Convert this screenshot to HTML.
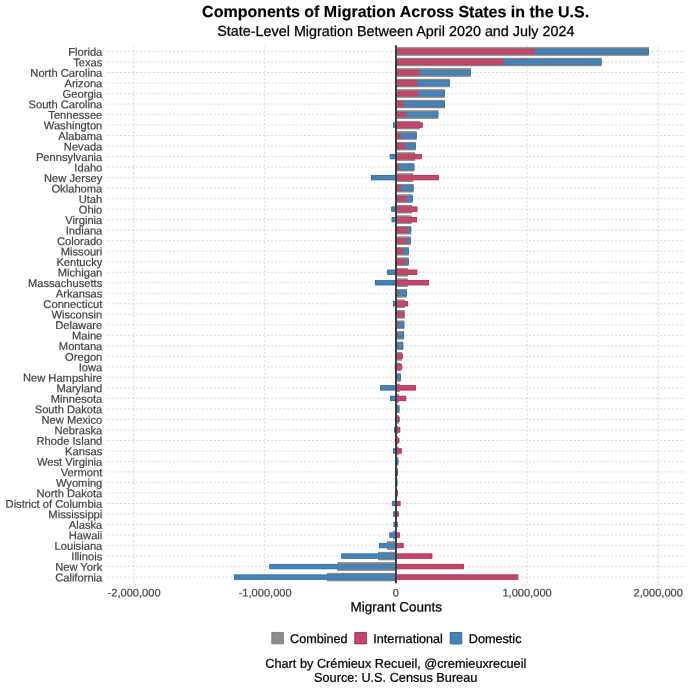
<!DOCTYPE html>
<html lang="en"><head><meta charset="utf-8"><title>Components of Migration Across States in the U.S.</title>
<style>html,body{margin:0;padding:0;background:#fff}body{width:690px;height:690px;overflow:hidden}svg{display:block}text{font-family:"Liberation Sans",Arial,Helvetica,sans-serif}</style></head><body>
<svg width="690" height="690" viewBox="0 0 690 690">
<rect width="690" height="690" fill="#fff"/>
<g transform="matrix(1 0.0005 0 1 0 0)">
<text x="395.6" y="16.9" text-anchor="middle" font-size="16" font-weight="bold" fill="#000" stroke="#000" stroke-width="0.15">Components of Migration Across States in the U.S.</text>
<text x="395.8" y="35.75" text-anchor="middle" font-size="14.38" fill="#000" stroke="#000" stroke-width="0.25">State-Level Migration Between April 2020 and July 2024</text>
</g>
<g stroke="#cdcdcd" stroke-width="0.8" stroke-dasharray="2 2.0909" fill="none">
<path d="M107.55 51.50H684.8"/>
<path d="M107.55 62.01H684.8"/>
<path d="M107.55 72.52H684.8"/>
<path d="M107.55 83.04H684.8"/>
<path d="M107.55 93.55H684.8"/>
<path d="M107.55 104.06H684.8"/>
<path d="M107.55 114.57H684.8"/>
<path d="M107.55 125.08H684.8"/>
<path d="M107.55 135.60H684.8"/>
<path d="M107.55 146.11H684.8"/>
<path d="M107.55 156.62H684.8"/>
<path d="M107.55 167.13H684.8"/>
<path d="M107.55 177.64H684.8"/>
<path d="M107.55 188.16H684.8"/>
<path d="M107.55 198.67H684.8"/>
<path d="M107.55 209.18H684.8"/>
<path d="M107.55 219.69H684.8"/>
<path d="M107.55 230.20H684.8"/>
<path d="M107.55 240.72H684.8"/>
<path d="M107.55 251.23H684.8"/>
<path d="M107.55 261.74H684.8"/>
<path d="M107.55 272.25H684.8"/>
<path d="M107.55 282.76H684.8"/>
<path d="M107.55 293.28H684.8"/>
<path d="M107.55 303.79H684.8"/>
<path d="M107.55 314.30H684.8"/>
<path d="M107.55 324.81H684.8"/>
<path d="M107.55 335.32H684.8"/>
<path d="M107.55 345.84H684.8"/>
<path d="M107.55 356.35H684.8"/>
<path d="M107.55 366.86H684.8"/>
<path d="M107.55 377.37H684.8"/>
<path d="M107.55 387.88H684.8"/>
<path d="M107.55 398.40H684.8"/>
<path d="M107.55 408.91H684.8"/>
<path d="M107.55 419.42H684.8"/>
<path d="M107.55 429.93H684.8"/>
<path d="M107.55 440.44H684.8"/>
<path d="M107.55 450.96H684.8"/>
<path d="M107.55 461.47H684.8"/>
<path d="M107.55 471.98H684.8"/>
<path d="M107.55 482.49H684.8"/>
<path d="M107.55 493.00H684.8"/>
<path d="M107.55 503.52H684.8"/>
<path d="M107.55 514.03H684.8"/>
<path d="M107.55 524.54H684.8"/>
<path d="M107.55 535.05H684.8"/>
<path d="M107.55 545.56H684.8"/>
<path d="M107.55 556.08H684.8"/>
<path d="M107.55 566.59H684.8"/>
<path d="M107.55 577.10H684.8"/>
<path d="M133.55 583.2V45.2"/>
<path d="M264.75 583.2V45.2"/>
<path d="M395.95 583.2V45.2"/>
<path d="M527.15 583.2V45.2"/>
<path d="M658.35 583.2V45.2"/>
</g>
<g fill="#8a8a8a" stroke="#757575" stroke-width="0.6">
<rect x="396.30" y="47.60" width="252.40" height="7.80"/>
<rect x="396.30" y="58.11" width="204.90" height="7.80"/>
<rect x="396.30" y="68.62" width="74.20" height="7.80"/>
<rect x="396.30" y="79.14" width="53.10" height="7.80"/>
<rect x="396.30" y="89.65" width="48.30" height="7.80"/>
<rect x="396.30" y="100.16" width="48.30" height="7.80"/>
<rect x="396.30" y="110.67" width="41.70" height="7.80"/>
<rect x="396.30" y="121.18" width="23.20" height="7.80"/>
<rect x="396.30" y="131.70" width="20.00" height="7.80"/>
<rect x="396.30" y="142.21" width="19.10" height="7.80"/>
<rect x="396.30" y="152.72" width="18.60" height="7.80"/>
<rect x="396.30" y="163.23" width="17.70" height="7.80"/>
<rect x="396.30" y="173.74" width="16.70" height="7.80"/>
<rect x="396.30" y="184.26" width="16.90" height="7.80"/>
<rect x="396.30" y="194.77" width="16.20" height="7.80"/>
<rect x="396.30" y="205.28" width="15.50" height="7.80"/>
<rect x="396.30" y="215.79" width="15.10" height="7.80"/>
<rect x="396.30" y="226.30" width="14.60" height="7.80"/>
<rect x="396.30" y="236.82" width="14.10" height="7.80"/>
<rect x="396.30" y="247.33" width="12.40" height="7.80"/>
<rect x="396.30" y="257.84" width="12.20" height="7.80"/>
<rect x="396.30" y="268.35" width="11.30" height="7.80"/>
<rect x="396.30" y="278.86" width="11.00" height="7.80"/>
<rect x="396.30" y="289.38" width="10.40" height="7.80"/>
<rect x="396.30" y="299.89" width="8.40" height="7.80"/>
<rect x="396.30" y="310.40" width="8.00" height="7.80"/>
<rect x="396.30" y="320.91" width="7.70" height="7.80"/>
<rect x="396.30" y="331.42" width="7.50" height="7.80"/>
<rect x="396.30" y="341.94" width="6.60" height="7.80"/>
<rect x="396.30" y="352.45" width="5.60" height="7.80"/>
<rect x="396.30" y="362.96" width="4.20" height="7.80"/>
<rect x="396.30" y="373.47" width="4.20" height="7.80"/>
<rect x="396.30" y="383.98" width="3.00" height="7.80"/>
<rect x="396.30" y="394.50" width="2.10" height="7.80"/>
<rect x="396.30" y="405.01" width="2.80" height="7.80"/>
<rect x="396.30" y="415.52" width="2.10" height="7.80"/>
<rect x="396.30" y="426.03" width="1.40" height="7.80"/>
<rect x="396.30" y="436.54" width="1.40" height="7.80"/>
<rect x="396.30" y="447.06" width="2.00" height="7.80"/>
<rect x="396.30" y="457.57" width="1.70" height="7.80"/>
<rect x="396.30" y="468.08" width="1.40" height="7.80"/>
<rect x="396.30" y="478.59" width="0.80" height="7.80"/>
<rect x="396.30" y="489.10" width="0.80" height="7.80"/>
<rect x="396.30" y="499.62" width="0.10" height="7.80"/>
<rect x="395.50" y="510.13" width="0.20" height="7.80"/>
<rect x="395.30" y="520.64" width="0.40" height="7.80"/>
<rect x="393.40" y="531.15" width="2.30" height="7.80"/>
<rect x="387.40" y="541.66" width="8.30" height="7.80"/>
<rect x="378.40" y="552.18" width="17.30" height="7.80"/>
<rect x="337.70" y="562.69" width="58.00" height="7.80"/>
<rect x="327.30" y="573.20" width="68.40" height="7.80"/>
</g>
<g fill="#c0476a" stroke="#b3224c" stroke-width="0.8">
<rect x="396.40" y="49.25" width="138.00" height="4.50"/>
<rect x="396.40" y="59.76" width="106.80" height="4.50"/>
<rect x="396.40" y="70.27" width="23.00" height="4.50"/>
<rect x="396.40" y="80.79" width="20.10" height="4.50"/>
<rect x="396.40" y="91.30" width="21.50" height="4.50"/>
<rect x="396.40" y="101.81" width="7.00" height="4.50"/>
<rect x="396.40" y="112.32" width="8.80" height="4.50"/>
<rect x="396.40" y="122.83" width="25.90" height="4.50"/>
<rect x="396.40" y="133.35" width="4.00" height="4.50"/>
<rect x="396.40" y="143.86" width="8.50" height="4.50"/>
<rect x="396.40" y="154.37" width="25.00" height="4.50"/>
<rect x="396.40" y="164.88" width="2.10" height="4.50"/>
<rect x="396.40" y="175.39" width="42.10" height="4.50"/>
<rect x="396.40" y="185.91" width="4.30" height="4.50"/>
<rect x="396.40" y="196.42" width="9.20" height="4.50"/>
<rect x="396.40" y="206.93" width="20.70" height="4.50"/>
<rect x="396.40" y="217.44" width="20.20" height="4.50"/>
<rect x="396.40" y="227.95" width="10.80" height="4.50"/>
<rect x="396.40" y="238.47" width="10.20" height="4.50"/>
<rect x="396.40" y="248.98" width="6.80" height="4.50"/>
<rect x="396.40" y="259.49" width="8.30" height="4.50"/>
<rect x="396.40" y="270.00" width="20.50" height="4.50"/>
<rect x="396.40" y="280.51" width="32.30" height="4.50"/>
<rect x="396.40" y="291.03" width="1.70" height="4.50"/>
<rect x="396.40" y="301.54" width="11.30" height="4.50"/>
<rect x="396.40" y="312.05" width="7.10" height="4.50"/>
<rect x="396.40" y="322.56" width="1.40" height="4.50"/>
<rect x="396.40" y="333.07" width="1.00" height="4.50"/>
<rect x="396.40" y="343.59" width="0.40" height="4.50"/>
<rect x="396.40" y="354.10" width="5.90" height="4.50"/>
<rect x="396.40" y="364.61" width="5.40" height="4.50"/>
<rect x="396.40" y="375.12" width="0.50" height="4.50"/>
<rect x="396.40" y="385.63" width="19.10" height="4.50"/>
<rect x="396.40" y="396.15" width="9.40" height="4.50"/>
<rect x="396.40" y="406.66" width="0.50" height="4.50"/>
<rect x="396.40" y="417.17" width="2.90" height="4.50"/>
<rect x="396.40" y="427.68" width="3.50" height="4.50"/>
<rect x="396.40" y="438.19" width="2.60" height="4.50"/>
<rect x="396.40" y="448.71" width="4.90" height="4.50"/>
<rect x="396.00" y="458.82" width="0.80" height="5.30" stroke="none"/>
<rect x="396.00" y="469.33" width="0.60" height="5.30" stroke="none"/>
<rect x="396.00" y="479.84" width="0.30" height="5.30" stroke="none"/>
<rect x="396.40" y="490.75" width="1.20" height="4.50"/>
<rect x="396.40" y="501.27" width="3.80" height="4.50"/>
<rect x="396.40" y="511.78" width="1.90" height="4.50"/>
<rect x="396.40" y="522.29" width="0.90" height="4.50"/>
<rect x="396.40" y="532.80" width="3.10" height="4.50"/>
<rect x="396.40" y="543.31" width="6.80" height="4.50"/>
<rect x="396.40" y="553.83" width="35.60" height="4.50"/>
<rect x="396.40" y="564.34" width="67.20" height="4.50"/>
<rect x="396.40" y="574.85" width="121.50" height="4.50"/>
</g>
<g fill="#4682b4" stroke="#2169a5" stroke-width="0.8">
<rect x="535.20" y="49.25" width="113.40" height="4.50"/>
<rect x="504.00" y="59.76" width="97.10" height="4.50"/>
<rect x="420.20" y="70.27" width="50.20" height="4.50"/>
<rect x="417.30" y="80.79" width="32.00" height="4.50"/>
<rect x="418.70" y="91.30" width="25.80" height="4.50"/>
<rect x="404.20" y="101.81" width="40.30" height="4.50"/>
<rect x="406.00" y="112.32" width="31.90" height="4.50"/>
<rect x="393.50" y="122.83" width="2.10" height="4.50"/>
<rect x="401.20" y="133.35" width="15.00" height="4.50"/>
<rect x="405.70" y="143.86" width="9.60" height="4.50"/>
<rect x="390.10" y="154.37" width="5.50" height="4.50"/>
<rect x="399.30" y="164.88" width="14.60" height="4.50"/>
<rect x="371.30" y="175.39" width="24.30" height="4.50"/>
<rect x="401.50" y="185.91" width="11.60" height="4.50"/>
<rect x="406.40" y="196.42" width="6.00" height="4.50"/>
<rect x="391.60" y="206.93" width="4.00" height="4.50"/>
<rect x="392.00" y="217.44" width="3.60" height="4.50"/>
<rect x="408.00" y="227.95" width="2.80" height="4.50"/>
<rect x="407.40" y="238.47" width="2.90" height="4.50"/>
<rect x="404.00" y="248.98" width="4.60" height="4.50"/>
<rect x="405.50" y="259.49" width="2.90" height="4.50"/>
<rect x="387.60" y="270.00" width="8.00" height="4.50"/>
<rect x="375.30" y="280.51" width="20.30" height="4.50"/>
<rect x="398.90" y="291.03" width="7.70" height="4.50"/>
<rect x="393.40" y="301.54" width="2.20" height="4.50"/>
<rect x="403.90" y="311.65" width="0.70" height="5.30" stroke="none"/>
<rect x="398.60" y="322.56" width="5.30" height="4.50"/>
<rect x="398.20" y="333.07" width="5.50" height="4.50"/>
<rect x="397.60" y="343.59" width="5.20" height="4.50"/>
<rect x="395.40" y="353.70" width="0.60" height="5.30" stroke="none"/>
<rect x="395.10" y="364.61" width="0.50" height="4.50"/>
<rect x="397.70" y="375.12" width="2.70" height="4.50"/>
<rect x="380.50" y="385.63" width="15.10" height="4.50"/>
<rect x="390.40" y="396.15" width="5.20" height="4.50"/>
<rect x="397.70" y="406.66" width="1.30" height="4.50"/>
<rect x="395.30" y="417.17" width="0.30" height="4.50"/>
<rect x="394.40" y="427.68" width="1.20" height="4.50"/>
<rect x="395.30" y="438.19" width="0.30" height="4.50"/>
<rect x="393.40" y="448.71" width="2.20" height="4.50"/>
<rect x="397.20" y="459.22" width="0.70" height="4.50"/>
<rect x="397.00" y="469.73" width="0.60" height="4.50"/>
<rect x="396.70" y="480.24" width="0.30" height="4.50"/>
<rect x="395.50" y="490.35" width="0.50" height="5.30" stroke="none"/>
<rect x="392.50" y="501.27" width="3.10" height="4.50"/>
<rect x="393.50" y="511.78" width="2.10" height="4.50"/>
<rect x="393.90" y="522.29" width="1.70" height="4.50"/>
<rect x="389.70" y="532.80" width="5.90" height="4.50"/>
<rect x="379.50" y="543.31" width="16.10" height="4.50"/>
<rect x="341.70" y="553.83" width="53.90" height="4.50"/>
<rect x="269.70" y="564.34" width="125.90" height="4.50"/>
<rect x="234.50" y="574.85" width="161.10" height="4.50"/>
</g>
<g fill="#c0476a">
<rect x="396.00" y="48.85" width="138.80" height="5.30"/>
<rect x="396.00" y="59.36" width="107.60" height="5.30"/>
<rect x="396.00" y="69.87" width="23.80" height="5.30"/>
<rect x="396.00" y="80.39" width="20.90" height="5.30"/>
<rect x="396.00" y="90.90" width="22.30" height="5.30"/>
<rect x="396.00" y="101.41" width="7.80" height="5.30"/>
<rect x="396.00" y="111.92" width="9.60" height="5.30"/>
<rect x="396.00" y="122.43" width="23.80" height="5.30"/>
<rect x="396.00" y="132.95" width="4.80" height="5.30"/>
<rect x="396.00" y="143.46" width="9.30" height="5.30"/>
<rect x="396.00" y="153.97" width="19.20" height="5.30"/>
<rect x="396.00" y="164.48" width="2.90" height="5.30"/>
<rect x="396.00" y="174.99" width="17.30" height="5.30"/>
<rect x="396.00" y="185.51" width="5.10" height="5.30"/>
<rect x="396.00" y="196.02" width="10.00" height="5.30"/>
<rect x="396.00" y="206.53" width="16.10" height="5.30"/>
<rect x="396.00" y="217.04" width="15.70" height="5.30"/>
<rect x="396.00" y="227.55" width="11.60" height="5.30"/>
<rect x="396.00" y="238.07" width="11.00" height="5.30"/>
<rect x="396.00" y="248.58" width="7.60" height="5.30"/>
<rect x="396.00" y="259.09" width="9.10" height="5.30"/>
<rect x="396.00" y="269.60" width="11.90" height="5.30"/>
<rect x="396.00" y="280.11" width="11.60" height="5.30"/>
<rect x="396.00" y="290.63" width="2.50" height="5.30"/>
<rect x="396.00" y="301.14" width="9.00" height="5.30"/>
<rect x="396.00" y="311.65" width="7.90" height="5.30"/>
<rect x="396.00" y="322.16" width="2.20" height="5.30"/>
<rect x="396.00" y="332.67" width="1.80" height="5.30"/>
<rect x="396.00" y="343.19" width="1.20" height="5.30"/>
<rect x="396.00" y="353.70" width="6.20" height="5.30"/>
<rect x="396.00" y="364.21" width="4.80" height="5.30"/>
<rect x="396.00" y="374.72" width="1.30" height="5.30"/>
<rect x="396.00" y="385.23" width="3.60" height="5.30"/>
<rect x="396.00" y="395.75" width="2.70" height="5.30"/>
<rect x="396.00" y="406.26" width="1.30" height="5.30"/>
<rect x="396.00" y="416.77" width="2.70" height="5.30"/>
<rect x="396.00" y="427.28" width="2.00" height="5.30"/>
<rect x="396.00" y="437.79" width="2.00" height="5.30"/>
<rect x="396.00" y="448.31" width="2.60" height="5.30"/>
<rect x="396.00" y="458.82" width="0.80" height="5.30"/>
<rect x="396.00" y="469.33" width="0.60" height="5.30"/>
<rect x="396.00" y="479.84" width="0.30" height="5.30"/>
<rect x="396.00" y="490.35" width="1.40" height="5.30"/>
<rect x="396.00" y="500.87" width="0.70" height="5.30"/>
</g>
<g fill="#4682b4">
<rect x="534.80" y="48.85" width="113.40" height="5.30"/>
<rect x="503.60" y="59.36" width="97.10" height="5.30"/>
<rect x="419.80" y="69.87" width="50.20" height="5.30"/>
<rect x="416.90" y="80.39" width="32.00" height="5.30"/>
<rect x="418.30" y="90.90" width="25.80" height="5.30"/>
<rect x="403.80" y="101.41" width="40.30" height="5.30"/>
<rect x="405.60" y="111.92" width="31.90" height="5.30"/>
<rect x="400.80" y="132.95" width="15.00" height="5.30"/>
<rect x="405.30" y="143.46" width="9.60" height="5.30"/>
<rect x="398.90" y="164.48" width="14.60" height="5.30"/>
<rect x="401.10" y="185.51" width="11.60" height="5.30"/>
<rect x="406.00" y="196.02" width="6.00" height="5.30"/>
<rect x="407.60" y="227.55" width="2.80" height="5.30"/>
<rect x="407.00" y="238.07" width="2.90" height="5.30"/>
<rect x="403.60" y="248.58" width="4.60" height="5.30"/>
<rect x="405.10" y="259.09" width="2.90" height="5.30"/>
<rect x="398.50" y="290.63" width="7.70" height="5.30"/>
<rect x="398.20" y="322.16" width="5.30" height="5.30"/>
<rect x="397.80" y="332.67" width="5.50" height="5.30"/>
<rect x="397.20" y="343.19" width="5.20" height="5.30"/>
<rect x="397.30" y="374.72" width="2.70" height="5.30"/>
<rect x="397.30" y="406.26" width="1.30" height="5.30"/>
<rect x="396.80" y="458.82" width="0.70" height="5.30"/>
<rect x="396.60" y="469.33" width="0.60" height="5.30"/>
<rect x="396.30" y="479.84" width="0.30" height="5.30"/>
<rect x="395.20" y="511.38" width="0.80" height="5.30"/>
<rect x="395.00" y="521.89" width="1.00" height="5.30"/>
<rect x="393.10" y="532.40" width="2.90" height="5.30"/>
<rect x="387.10" y="542.91" width="8.90" height="5.30"/>
<rect x="378.10" y="553.43" width="17.90" height="5.30"/>
<rect x="337.40" y="563.94" width="58.60" height="5.30"/>
<rect x="327.00" y="574.45" width="69.00" height="5.30"/>
</g>
<path d="M396.0 45.2V583.2" stroke="#383838" stroke-width="1.9" fill="none"/>
<g transform="matrix(1 0.0005 0 1 0 0)">
<g font-size="11.17" fill="#404040" stroke="#404040" stroke-width="0.2" text-anchor="end">
<text x="102.3" y="55.75">Florida</text>
<text x="102.3" y="66.26">Texas</text>
<text x="102.3" y="76.77">North Carolina</text>
<text x="102.3" y="87.29">Arizona</text>
<text x="102.3" y="97.80">Georgia</text>
<text x="102.3" y="108.31">South Carolina</text>
<text x="102.3" y="118.82">Tennessee</text>
<text x="102.3" y="129.33">Washington</text>
<text x="102.3" y="139.85">Alabama</text>
<text x="102.3" y="150.36">Nevada</text>
<text x="102.3" y="160.87">Pennsylvania</text>
<text x="102.3" y="171.38">Idaho</text>
<text x="102.3" y="181.89">New Jersey</text>
<text x="102.3" y="192.41">Oklahoma</text>
<text x="102.3" y="202.92">Utah</text>
<text x="102.3" y="213.43">Ohio</text>
<text x="102.3" y="223.94">Virginia</text>
<text x="102.3" y="234.45">Indiana</text>
<text x="102.3" y="244.97">Colorado</text>
<text x="102.3" y="255.48">Missouri</text>
<text x="102.3" y="265.99">Kentucky</text>
<text x="102.3" y="276.50">Michigan</text>
<text x="102.3" y="287.01">Massachusetts</text>
<text x="102.3" y="297.53">Arkansas</text>
<text x="102.3" y="308.04">Connecticut</text>
<text x="102.3" y="318.55">Wisconsin</text>
<text x="102.3" y="329.06">Delaware</text>
<text x="102.3" y="339.57">Maine</text>
<text x="102.3" y="350.09">Montana</text>
<text x="102.3" y="360.60">Oregon</text>
<text x="102.3" y="371.11">Iowa</text>
<text x="102.3" y="381.62">New Hampshire</text>
<text x="102.3" y="392.13">Maryland</text>
<text x="102.3" y="402.65">Minnesota</text>
<text x="102.3" y="413.16">South Dakota</text>
<text x="102.3" y="423.67">New Mexico</text>
<text x="102.3" y="434.18">Nebraska</text>
<text x="102.3" y="444.69">Rhode Island</text>
<text x="102.3" y="455.21">Kansas</text>
<text x="102.3" y="465.72">West Virginia</text>
<text x="102.3" y="476.23">Vermont</text>
<text x="102.3" y="486.74">Wyoming</text>
<text x="102.3" y="497.25">North Dakota</text>
<text x="102.3" y="507.77">District of Columbia</text>
<text x="102.3" y="518.28">Mississippi</text>
<text x="102.3" y="528.79">Alaska</text>
<text x="102.3" y="539.30">Hawaii</text>
<text x="102.3" y="549.81">Louisiana</text>
<text x="102.3" y="560.33">Illinois</text>
<text x="102.3" y="570.84">New York</text>
<text x="102.3" y="581.35">California</text>
</g>
<g font-size="11.1" fill="#444" stroke="#444" stroke-width="0.2" text-anchor="middle">
<text x="134.1" y="596.53">-2,000,000</text>
<text x="265.2" y="596.47">-1,000,000</text>
<text x="395.9" y="596.40">0</text>
<text x="527.1" y="596.34">1,000,000</text>
<text x="658.3" y="596.27">2,000,000</text>
</g>
<text x="396.3" y="611.4" text-anchor="middle" font-size="13.5" fill="#000" stroke="#000" stroke-width="0.25">Migrant Counts</text>
<rect x="271.8" y="632.3" width="11.6" height="11.4" fill="#8d8d8d" stroke="#7b7b7b" stroke-width="0.9"/>
<rect x="354.8" y="632.3" width="11.6" height="11.4" fill="#c0476a" stroke="#b3224c" stroke-width="0.9"/>
<rect x="450.2" y="632.3" width="11.6" height="11.4" fill="#4682b4" stroke="#2169a5" stroke-width="0.9"/>
<g font-size="12.65" fill="#000" stroke="#000" stroke-width="0.25">
<text x="290.0" y="642.8">Combined</text><text x="373.3" y="642.75">International</text><text x="468.8" y="642.7">Domestic</text>
</g>
<g font-size="12.72" fill="#000" stroke="#000" stroke-width="0.25" text-anchor="middle">
<text x="395.8" y="667.5">Chart by Crémieux Recueil, @cremieuxrecueil</text>
<text x="395.7" y="681.6">Source: U.S. Census Bureau</text>
</g>
</g>
</svg></body></html>
